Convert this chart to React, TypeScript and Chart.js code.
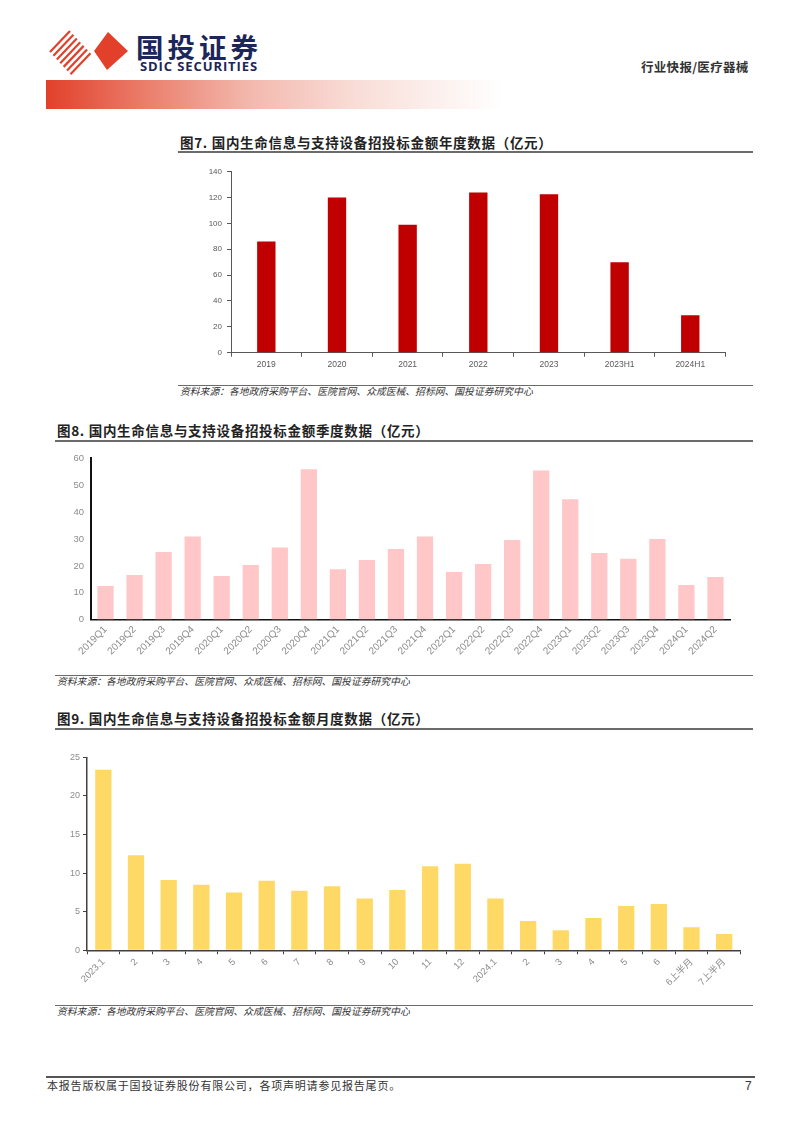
import React, { useEffect, useRef } from "react";
import { Chart, registerables } from "chart.js";

Chart.register(...registerables);

// ---------- data ----------
const yearCategories = ["2019", "2020", "2021", "2022", "2023", "2023H1", "2024H1"];
const yearValues = [86, 120, 99, 124, 122.5, 70, 29];

const quarterCategories = [
  "2019Q1", "2019Q2", "2019Q3", "2019Q4",
  "2020Q1", "2020Q2", "2020Q3", "2020Q4",
  "2021Q1", "2021Q2", "2021Q3", "2021Q4",
  "2022Q1", "2022Q2", "2022Q3", "2022Q4",
  "2023Q1", "2023Q2", "2023Q3", "2023Q4",
  "2024Q1", "2024Q2",
];
const quarterValues = [
  12.5, 16.6, 25.2, 30.9,
  16.2, 20.3, 26.8, 55.9,
  18.8, 22.2, 26.3, 30.9,
  17.7, 20.7, 29.6, 55.5,
  44.8, 24.8, 22.7, 30.0,
  12.9, 15.9,
];

const monthCategories = [
  "2023.1", "2", "3", "4", "5", "6", "7", "8", "9", "10", "11", "12",
  "2024.1", "2", "3", "4", "5", "6", "6上半月", "7上半月",
];
const monthValues = [
  23.4, 12.3, 9.1, 8.5, 7.5, 9.0, 7.7, 8.3, 6.7, 7.8, 10.9, 11.2,
  6.7, 3.8, 2.6, 4.2, 5.75, 6.0, 3.0, 2.1,
];

const fig7Title = "图7. 国内生命信息与支持设备招投标金额年度数据（亿元）";
const fig8Title = "图8. 国内生命信息与支持设备招投标金额季度数据（亿元）";
const fig9Title = "图9. 国内生命信息与支持设备招投标金额月度数据（亿元）";
const sourceText = "资料来源：各地政府采购平台、医院官网、众成医械、招标网、国投证券研究中心";
const footerText = "本报告版权属于国投证券股份有限公司，各项声明请参见报告尾页。";
const headerRight = "行业快报/医疗器械";

const CJK = "'Noto Sans CJK SC', 'Noto Sans', sans-serif";
const LATIN = "'Liberation Sans Narrow', 'Liberation Sans', Arial, 'Noto Sans CJK SC', sans-serif";

type BarOpts = {
  labels: string[];
  values: number[];
  color: string;
  barPct: number;
  yMax: number;
  yStep: number;
  width: number;
  height: number;
  yAxisWidth: number;
  xAxisHeight: number;
  padTop: number;
  padRight: number;
  axisColor: string;
  axisWidth: number;
  yAxisWidthLine?: number;
  tickColor: string;
  yFont: number;
  xFont: number;
  rotate: number;
  xTickMarks: boolean;
  yTickMarks: boolean;
  yLabelPad: number;
  xLabelPad: number;
};

function BarChart(props: BarOpts & { left: number; top: number }) {
  const ref = useRef<HTMLCanvasElement | null>(null);
  useEffect(() => {
    if (!ref.current) return;
    const o = props;
    const chart = new Chart(ref.current, {
      type: "bar",
      data: {
        labels: o.labels,
        datasets: [
          {
            data: o.values,
            backgroundColor: o.color,
            barPercentage: o.barPct,
            categoryPercentage: 1,
          },
        ],
      },
      options: {
        responsive: false,
        animation: false,
        devicePixelRatio: 1,
        layout: { padding: { top: o.padTop, right: o.padRight, left: 0, bottom: 0 } },
        plugins: { legend: { display: false }, tooltip: { enabled: false } },
        scales: {
          x: {
            offset: true,
            grid: {
              display: true,
              drawOnChartArea: false,
              drawTicks: o.xTickMarks,
              tickLength: 4,
              color: o.axisColor,
              lineWidth: 1,
              offset: true,
            },
            border: { display: true, color: o.axisColor, width: o.axisWidth },
            ticks: {
              color: o.tickColor,
              font: { family: LATIN, size: o.xFont },
              maxRotation: o.rotate,
              minRotation: o.rotate,
              autoSkip: false,
              padding: o.xLabelPad,
            },
            afterFit: (s: any) => {
              s.height = o.xAxisHeight;
              s.paddingLeft = 0;
              s.paddingRight = 0;
            },
          },
          y: {
            min: 0,
            max: o.yMax,
            grid: {
              display: true,
              drawOnChartArea: false,
              drawTicks: o.yTickMarks,
              tickLength: 4,
              color: o.axisColor,
            },
            border: { display: true, color: o.axisColor, width: o.yAxisWidthLine ?? o.axisWidth },
            ticks: {
              stepSize: o.yStep,
              color: o.tickColor,
              font: { family: LATIN, size: o.yFont },
              padding: o.yLabelPad,
            },
            afterFit: (s: any) => {
              s.width = o.yAxisWidth;
              s.paddingTop = 0;
              s.paddingBottom = 0;
            },
          },
        },
      },
    } as any);
    return () => chart.destroy();
  }, []);
  return (
    <canvas
      ref={ref}
      width={props.width}
      height={props.height}
      style={{ position: "absolute", left: props.left, top: props.top, width: props.width, height: props.height }}
    />
  );
}

function Text(p: {
  x: number;
  cy: number;
  size: number;
  text: string;
  color?: string;
  weight?: number | string;
  family?: string;
  italic?: boolean;
  spacing?: number;
}) {
  return (
    <div
      style={{
        position: "absolute",
        left: p.x,
        top: p.cy - p.size * 0.6,
        height: p.size * 1.2,
        lineHeight: `${p.size * 1.2}px`,
        fontSize: p.size,
        fontFamily: p.family ?? CJK,
        fontWeight: p.weight ?? 400,
        fontStyle: p.italic ? "italic" : "normal",
        color: p.color ?? "#222",
        letterSpacing: p.spacing ?? 0,
        whiteSpace: "nowrap",
      }}
    >
      {p.text}
    </div>
  );
}

function Rule(p: { x1: number; x2: number; y: number; h?: number; color?: string }) {
  return (
    <div
      style={{
        position: "absolute",
        left: p.x1,
        top: p.y,
        width: p.x2 - p.x1,
        height: p.h ?? 1.5,
        background: p.color ?? "#6b6b6b",
      }}
    />
  );
}

function Logo() {
  const stripes: JSX.Element[] = [];
  // striped diamond (left part of the logo)
  for (let i = 0; i < 7; i++) {
    const o = i * 6.2;
    stripes.push(
      <line
        key={i}
        x1={50 + o * 0.55}
        y1={52 + o * 0.6}
        x2={70 + o * 0.55}
        y2={31 + o * 0.6}
        stroke="#E2402A"
        strokeWidth={2.2}
      />
    );
  }
  return (
    <svg
      width={90}
      height={50}
      viewBox="40 26 90 50"
      style={{ position: "absolute", left: 40, top: 26 }}
    >
      {stripes}
      <polygon points="94,51 108,32 128,51 107,70" fill="#E2402A" />
    </svg>
  );
}

export default function App() {
  return (
    <div
      style={{
        position: "absolute",
        left: 0,
        top: 0,
        width: 802,
        height: 1133,
        background: "#fff",
        overflow: "hidden",
        fontFamily: CJK,
      }}
    >
      {/* header */}
      <Logo />
      <Text x={136} cy={46} size={27.5} text="国投证券" color="#1c2658" weight={700} spacing={4} />
      <Text x={140} cy={66.5} size={13} text="SDIC SECURITIES" color="#1c2658" weight={700} family="'Open Sans', 'Liberation Sans', sans-serif" spacing={0.9} />
      <Text x={641} cy={66} size={12.5} text={headerRight} color="#333" weight={700} spacing={0.3} />
      <div
        style={{
          position: "absolute",
          left: 46,
          top: 80,
          width: 456,
          height: 29,
          background: "linear-gradient(to right, #E2402A 0%, #EB7E6C 22%, #F3B9AE 45%, #F9DDD7 68%, #FFFFFF 100%)",
        }}
      />

      {/* figure 7 */}
      <Text x={180} cy={142} size={13.5} text={fig7Title} color="#222" weight={700} spacing={0.7} />
      <Rule x1={178} x2={753} y={151} />
      <BarChart
        left={180}
        top={160}
        width={570}
        height={215}
        labels={yearCategories}
        values={yearValues}
        color="#C00000"
        barPct={0.26}
        yMax={140}
        yStep={20}
        yAxisWidth={51}
        xAxisHeight={22.3}
        padTop={11.7}
        padRight={24.4}
        axisColor="#595959"
        axisWidth={1}
        tickColor="#595959"
        yFont={8}
        xFont={8.5}
        rotate={0}
        xTickMarks={true}
        yTickMarks={true}
        yLabelPad={5}
        xLabelPad={3}
      />
      <Rule x1={178} x2={753} y={385} h={1.2} />
      <Text x={180} cy={392} size={9.8} text={sourceText} color="#333" italic={true} />

      {/* figure 8 */}
      <Text x={57} cy={430} size={13.5} text={fig8Title} color="#222" weight={700} spacing={0.7} />
      <Rule x1={55} x2={753} y={440} />
      <BarChart
        left={50}
        top={448}
        width={700}
        height={222}
        labels={quarterCategories}
        values={quarterValues}
        color="#FFC7C7"
        barPct={0.56}
        yMax={60}
        yStep={10}
        yAxisWidth={41}
        xAxisHeight={50.3}
        padTop={10.3}
        padRight={20}
        axisColor="#111"
        axisWidth={1.5}
        yAxisWidthLine={2}
        tickColor="#8c8c8c"
        yFont={9.5}
        xFont={10}
        rotate={45}
        xTickMarks={false}
        yTickMarks={false}
        yLabelPad={7}
        xLabelPad={4}
      />
      <Rule x1={55} x2={753} y={675} h={1.2} />
      <Text x={57} cy={682} size={9.8} text={sourceText} color="#333" italic={true} />

      {/* figure 9 */}
      <Text x={57} cy={718} size={13.5} text={fig9Title} color="#222" weight={700} spacing={0.7} />
      <Rule x1={55} x2={753} y={728} />
      <BarChart
        left={40}
        top={745}
        width={710}
        height={255}
        labels={monthCategories}
        values={monthValues}
        color="#FFD966"
        barPct={0.5}
        yMax={25}
        yStep={5}
        yAxisWidth={47}
        xAxisHeight={49.7}
        padTop={12.3}
        padRight={9.5}
        axisColor="#404040"
        axisWidth={1.5}
        tickColor="#8c8c8c"
        yFont={9}
        xFont={9.5}
        rotate={45}
        xTickMarks={true}
        yTickMarks={true}
        yLabelPad={3}
        xLabelPad={2}
      />
      <Rule x1={55} x2={753} y={1005} h={1.2} />
      <Text x={57} cy={1012} size={9.8} text={sourceText} color="#333" italic={true} />

      {/* footer */}
      <Rule x1={46} x2={755} y={1076} h={2} color="#555" />
      <Text x={47} cy={1086} size={11} text={footerText} color="#333" spacing={0.8} />
      <Text x={745} cy={1086} size={12} text="7" color="#333" family="'Liberation Sans', sans-serif" />
    </div>
  );
}
